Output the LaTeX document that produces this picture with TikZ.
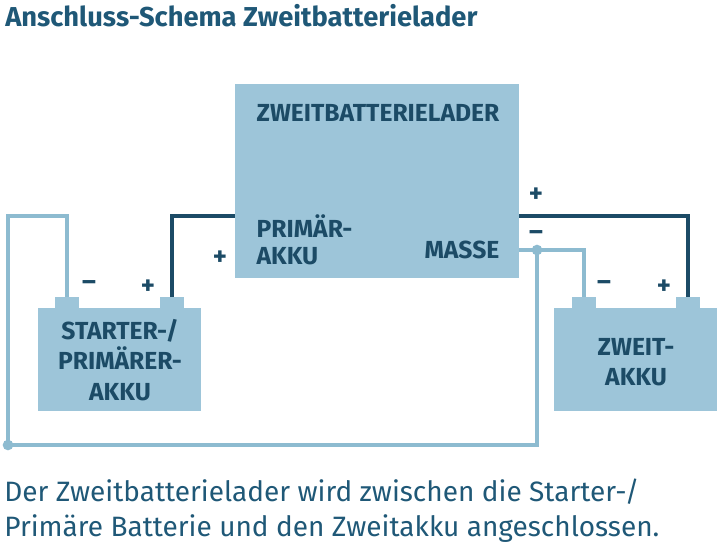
\documentclass[tikz,border=0pt]{standalone}
\usepackage{fontspec}
\setmainfont{Fira Sans}
\definecolor{boxc}{HTML}{9DC5D9}
\definecolor{dark}{HTML}{1C4B66}
\definecolor{lite}{HTML}{8DBBD0}
\definecolor{txt}{HTML}{1F5877}
\begin{document}
\begin{tikzpicture}[x=0.75pt,y=-0.75pt,
  bx/.style={fill=boxc,draw=none},
  lab/.style={text=dark,font=\fontsize{18.5}{20}\selectfont\bfseries,align=center,inner sep=1pt},
  sg/.style={text=dark,font=\fontsize{20}{20}\selectfont\bfseries,inner sep=0pt},
  dw/.style={draw=dark,line width=3pt},
  lw/.style={draw=lite,line width=3pt},
  dot/.style={circle,fill=lite,inner sep=0pt,minimum size=8pt}]
\useasboundingbox (0,0) rectangle (720,547);
\node[anchor=west,text=txt,font=\fontsize{20.5}{24}\selectfont\bfseries,inner sep=0pt] (title) at (5,16) {Anschluss-Schema Zweitbatterielader};
% main box
\path[bx] (235,84) rectangle (519,278);
\node[lab] (zbl) at (378,113) {ZWEITBATTERIELADER};
\node[lab,align=left,anchor=north west] (prim) at (255,213) {PRIMÄR-\\AKKU};
\node[lab,anchor=east] (masse) at (501,250) {MASSE};
% left battery
\path[bx] (38,308) rectangle (201,411);
\path[bx] (55,297) rectangle (79,309);
\path[bx] (160,297) rectangle (184,309);
\node[lab,font=\fontsize{18.5}{23}\selectfont\bfseries] (lb) at (120,360) {STARTER-/\\PRIMÄRER-\\AKKU};
\node[sg] (lm) at (89,286) {–};
\node[sg] (lp) at (148,287) {+};
% right battery
\path[bx] (554,308) rectangle (717,411);
\path[bx] (572,297) rectangle (596,309);
\path[bx] (676,297) rectangle (700,309);
\node[lab,font=\fontsize{18.5}{23}\selectfont\bfseries] (rb) at (636,362) {ZWEIT-\\AKKU};
\node[sg] (rm) at (604,286) {–};
\node[sg] (rp) at (664,287) {+};
% wires
\coordinate (a1) at (172,297); \coordinate (a2) at (172,216); \coordinate (a3) at (235,216);
\draw[dw] (a1) -- (a2) -- (a3);
\node[sg] (pl) at (220,258) {+};
\coordinate (b1) at (519,216); \coordinate (b2) at (688,216); \coordinate (b3) at (688,297);
\draw[dw] (b1) -- (b2) -- (b3);
\node[sg] (pp) at (536,195) {+};
\node[sg] (mm) at (536,236) {–};
\coordinate (c1) at (67,297); \coordinate (c2) at (67,216); \coordinate (c3) at (8,216);
\coordinate (c4) at (8,445); \coordinate (c5) at (537,445); \coordinate (c6) at (537,250);
\draw[lw] (c1) -- (c2) -- (c3) -- (c4) -- (c5) -- (c6);
\coordinate (d1) at (519,250); \coordinate (d2) at (584,250); \coordinate (d3) at (584,297);
\draw[lw] (d1) -- (d2) -- (d3);
\node[dot] (dt1) at (c6) {};
\node[dot] (dt2) at (c4) {};
\node[anchor=west,text=txt,font=\fontsize{21}{26.5}\selectfont,align=left,inner sep=0pt] (bt) at (4,511) {Der Zweitbatterielader wird zwischen die Starter-/\\Primäre Batterie und den Zweitakku angeschlossen.};
\end{tikzpicture}
\end{document}
